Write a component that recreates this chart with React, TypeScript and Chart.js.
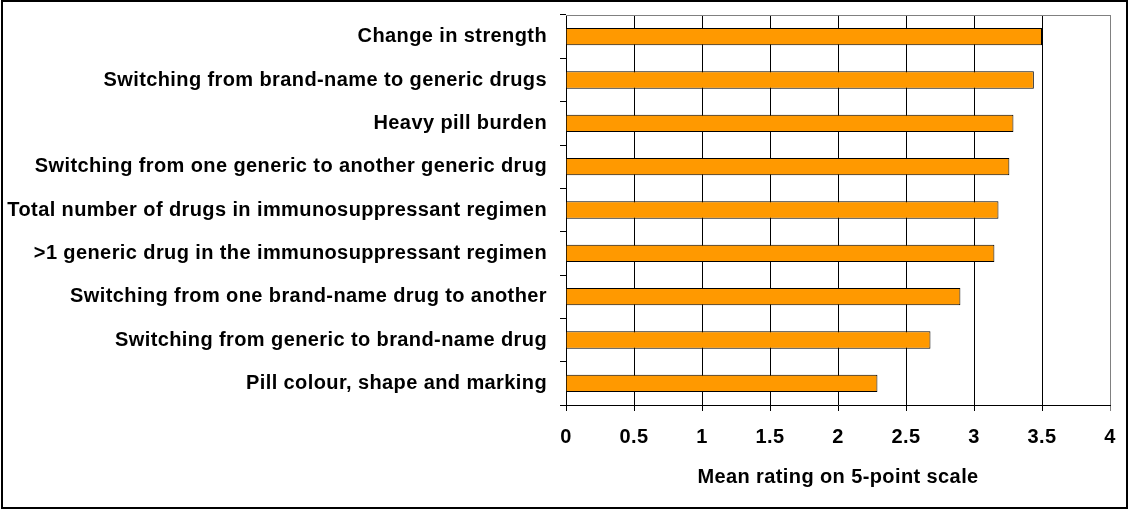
import React, { useEffect, useRef } from "react";
import { Chart, registerables } from "chart.js";

Chart.register(...registerables);

const categories = [
  "Change in strength",
  "Switching from brand-name to generic drugs",
  "Heavy pill burden",
  "Switching from one generic to another generic drug",
  "Total number of drugs in immunosuppressant regimen",
  ">1 generic drug in the immunosuppressant regimen",
  "Switching from one brand-name drug to another",
  "Switching from generic to brand-name drug",
  "Pill colour, shape and marking",
];

const meanRatings = [3.5, 3.44, 3.29, 3.26, 3.18, 3.15, 2.9, 2.68, 2.29];

const xTickMin = 0;
const xTickMax = 4;
const xTickStep = 0.5;
const xAxisTitle = "Mean rating on 5-point scale";

const FONT = "'Liberation Sans', Arial, sans-serif";
const LETTER_SPACING = "0.4px";

const setSpacing = (chart: any) => {
  try {
    (chart.ctx as any).letterSpacing = LETTER_SPACING;
  } catch (e) {}
};

const framePlugin = {
  id: "frame",
  beforeLayout(chart: any) {
    setSpacing(chart);
  },
  beforeDraw(chart: any) {
    setSpacing(chart);
    const { ctx, width, height } = chart;
    ctx.save();
    ctx.fillStyle = "#ffffff";
    ctx.fillRect(0, 0, width, height);
    ctx.restore();
  },
  beforeDatasetsDraw(chart: any) {
    const { ctx, chartArea } = chart;
    ctx.save();
    ctx.strokeStyle = "#808080";
    ctx.lineWidth = 1;
    ctx.beginPath();
    ctx.moveTo(chartArea.left, chartArea.top + 0.5);
    ctx.lineTo(chartArea.right + 0.5, chartArea.top + 0.5);
    ctx.stroke();
    ctx.restore();
  },
  afterDraw(chart: any) {
    const { ctx } = chart;
    ctx.save();
    ctx.strokeStyle = "#000000";
    ctx.lineWidth = 2;
    ctx.strokeRect(2, 1, 1125, 507);
    ctx.restore();
  },
};

export default function App() {
  const ref = useRef<HTMLCanvasElement | null>(null);

  useEffect(() => {
    if (!ref.current) return;
    const chart = new Chart(ref.current, {
      type: "bar",
      data: {
        labels: categories,
        datasets: [
          {
            data: meanRatings,
            backgroundColor: "#FF9900",
            borderColor: "#000000",
            borderWidth: 1,
            categoryPercentage: 1,
            barPercentage: 0.4,
          },
        ],
      },
      plugins: [framePlugin],
      options: {
        indexAxis: "y",
        responsive: false,
        animation: false,
        layout: { padding: { top: 15, right: 20, left: 0, bottom: 0 } },
        plugins: {
          legend: { display: false },
          tooltip: { enabled: false },
          title: { display: false },
        },
        scales: {
          x: {
            type: "linear",
            min: xTickMin,
            max: xTickMax,
            ticks: {
              stepSize: xTickStep,
              color: "#000000",
              padding: 14,
              maxRotation: 0,
              font: { family: FONT, size: 20, weight: "bold" },
              callback: (v: any) => String(Number(v)),
            },
            grid: {
              color: (c: any) => (c.tick && c.tick.value === xTickMax ? "#808080" : "#000000"),
              tickLength: 6,
              lineWidth: 1,
            },
            border: { display: true, color: "#000000", width: 1 },
            title: {
              display: true,
              text: xAxisTitle,
              color: "#000000",
              font: { family: FONT, size: 20, weight: "bold" },
              padding: { top: 4, bottom: 22 },
            },
            afterFit: (scale: any) => {
              scale.height = 106;
              scale.paddingLeft = 0;
              scale.paddingRight = 0;
            },
          },
          y: {
            type: "category",
            ticks: {
              color: "#000000",
              padding: 13,
              font: { family: FONT, size: 20, weight: "bold" },
            },
            grid: {
              drawOnChartArea: false,
              drawTicks: true,
              tickLength: 6,
              color: "#000000",
              offset: true,
            },
            border: { display: true, color: "#000000", width: 1 },
            afterFit: (scale: any) => {
              scale.width = 566;
              scale.paddingTop = 0;
              scale.paddingBottom = 0;
            },
          },
        },
      },
    } as any);
    return () => chart.destroy();
  }, []);

  return (
    <div style={{ position: "fixed", left: 0, top: 0, width: 1130, height: 511 }}>
      <canvas ref={ref} width={1130} height={511} style={{ display: "block", width: 1130, height: 511 }} />
    </div>
  );
}
